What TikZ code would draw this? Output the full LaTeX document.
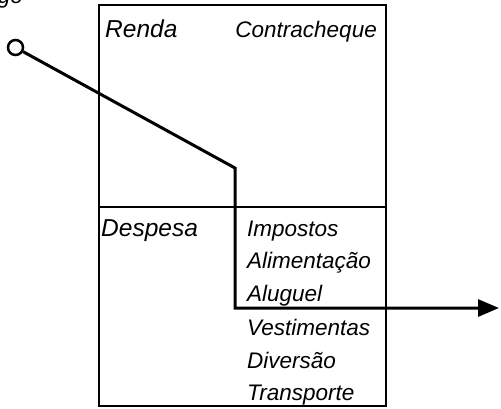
\documentclass[tikz,border=0pt]{standalone}
\usepackage{fontspec}
\setmainfont{Liberation Sans}
\usetikzlibrary{arrows.meta}
\tikzset{
  frame/.style={draw=black, line width=2pt},
  conn/.style={draw=black, line width=3pt, line join=miter},
  biglabel/.style={inner sep=0pt, font=\fontsize{24.5}{28}\selectfont\itshape},
  item/.style={inner sep=0pt, font=\fontsize{22.5}{26}\selectfont\itshape},
  srcdot/.style={circle, draw=black, line width=2.5pt, minimum size=15pt, inner sep=0pt}
}
\begin{document}
\begin{tikzpicture}[x=1pt,y=-1pt]
\useasboundingbox (0,0) rectangle (501,408);
\clip (0,0) rectangle (501,408);
\fill[white] (0,0) rectangle (501,408);
% box
\draw[frame] (99,5) rectangle (386,406);
\draw[frame] (99,207) -- (386,207);
% texts
\node[item, anchor=base east] (top) at (23,3) {go};
\node[biglabel, anchor=base west] (renda) at (105,37) {Renda};
\node[item, anchor=base east] (contra) at (377,37) {Contracheque};
\node[biglabel, anchor=base west] (despesa) at (101,236) {Despesa};
\node[item, anchor=base west] (i1) at (247,236) {Impostos};
\node[item, anchor=base west] (i2) at (247,268.5) {Alimentação};
\node[item, anchor=base west] (i3) at (247,301.5) {Aluguel};
\node[item, anchor=base west] (i4) at (247,335.5) {Vestimentas};
\node[item, anchor=base west] (i5) at (247,368) {Diversão};
\node[item, anchor=base west] (i6) at (247,400.5) {Transporte};
% connector
\node[srcdot] (src) at (15.5,47.5) {};
\coordinate (b1) at (235,168);
\coordinate (b2) at (235,308);
\coordinate (out) at (499,308);
\draw[conn, -{Triangle[length=21pt,width=17pt]}] (src) -- (b1) -- (b2) -- (out);
\end{tikzpicture}
\end{document}
